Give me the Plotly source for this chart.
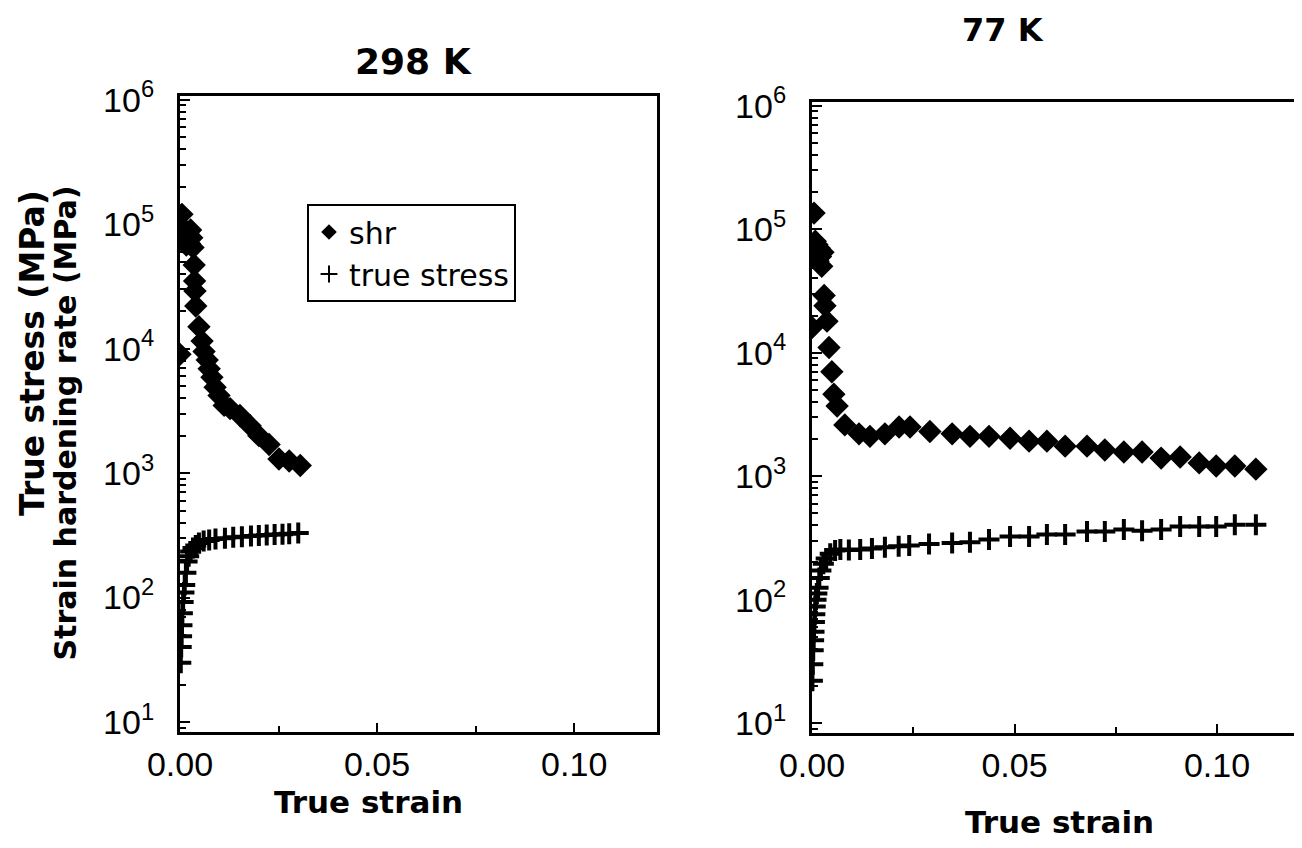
import plotly.graph_objects as go

# ---------------- data ----------------
# 298 K
strain_shr_298 = [0.0000, 0.0005, 0.0010, 0.0013, 0.0016, 0.0020, 0.0024, 0.0027, 0.0030, 0.0033,
                  0.0036, 0.0037, 0.0038, 0.0040, 0.0048, 0.0056, 0.0061, 0.0069, 0.0074, 0.0081,
                  0.0089, 0.0099, 0.0112, 0.0127, 0.0152, 0.0178, 0.0200, 0.0226, 0.0251, 0.0277, 0.0305]
shr_298 = [9.0e3, 1.2e5, 7.5e4, 9.0e4, 6.8e4, 8.5e4, 7.0e4, 9.0e4, 7.8e4, 6.5e4,
           4.7e4, 3.5e4, 2.9e4, 2.2e4, 1.5e4, 1.15e4, 9.5e3, 8.1e3, 6.9e3, 5.9e3,
           4.9e3, 4.2e3, 3.5e3, 3.3e3, 2.9e3, 2.4e3, 2.0e3, 1.7e3, 1.3e3, 1.25e3, 1.15e3]

strain_ts_298 = [0.0002, 0.0003, 0.0004, 0.0005, 0.0006, 0.0008, 0.0010, 0.0012, 0.0015, 0.0018,
                 0.0022, 0.0027, 0.0033, 0.0040, 0.0048, 0.0060, 0.0074, 0.0090, 0.0114, 0.0135,
                 0.0157, 0.0180, 0.0200, 0.0220, 0.0240, 0.0260, 0.0277, 0.0300]
ts_298 = [30, 40, 49, 60, 75, 92, 110, 126, 158, 195,
          215, 235, 250, 262, 275, 285, 290, 295, 300, 305,
          308, 312, 316, 318, 321, 323, 325, 330]

# 77 K
strain_shr_77 = [0.0000, 0.0005, 0.0008, 0.0010, 0.0012, 0.0015, 0.0018, 0.0021, 0.0024, 0.0027,
                 0.0030, 0.0032, 0.0037, 0.0042, 0.0049, 0.0054, 0.0062, 0.0081, 0.0116, 0.0143,
                 0.0180, 0.0215, 0.0242, 0.0291, 0.0346, 0.0390, 0.0437, 0.0489, 0.0536, 0.0580,
                 0.0625, 0.0679, 0.0723, 0.0770, 0.0815, 0.0862, 0.0909, 0.0956, 0.0998, 0.1044, 0.1096]
shr_77 = [1.6e4, 1.35e5, 8.0e4, 6.5e4, 7.5e4, 5.5e4, 7.0e4, 6.0e4, 5.0e4, 6.5e4,
          2.9e4, 2.4e4, 1.8e4, 1.1e4, 7.0e3, 4.6e3, 3.7e3, 2.6e3, 2.2e3, 2.1e3,
          2.2e3, 2.5e3, 2.5e3, 2.3e3, 2.2e3, 2.1e3, 2.1e3, 2.03e3, 1.92e3, 1.92e3,
          1.75e3, 1.75e3, 1.63e3, 1.57e3, 1.57e3, 1.40e3, 1.43e3, 1.28e3, 1.21e3, 1.21e3, 1.14e3]

strain_ts_77 = [0.0001, 0.0002, 0.0003, 0.0004, 0.0005, 0.0006, 0.0007, 0.0008, 0.0010, 0.0012,
                0.0015, 0.0018, 0.0022, 0.0028, 0.0035, 0.0045, 0.0057, 0.0070, 0.0091, 0.0119,
                0.0148, 0.0180, 0.0214, 0.0240, 0.0289, 0.0346, 0.0390, 0.0437, 0.0489, 0.0536,
                0.0580, 0.0625, 0.0679, 0.0723, 0.0770, 0.0815, 0.0862, 0.0909, 0.0956, 0.0998,
                0.1044, 0.1096]
ts_77 = [22, 30, 39, 47, 55, 66, 76, 88, 100, 112,
         125, 150, 172, 195, 215, 235, 250, 255, 252, 255,
         260, 265, 270, 275, 282, 288, 292, 307, 324, 324,
         337, 337, 356, 356, 369, 361, 369, 391, 391, 391,
         405, 405]

y_tick_vals = [1e1, 1e2, 1e3, 1e4, 1e5, 1e6]
y_tick_text = ["10<sup>1</sup>", "10<sup>2</sup>", "10<sup>3</sup>",
               "10<sup>4</sup>", "10<sup>5</sup>", "10<sup>6</sup>"]
x_tick_vals = [0.0, 0.05, 0.10]
x_tick_text = ["0.00", "0.05", "0.10"]
titles = ["298 K", "77 K"]
legend_names = ["shr", "true stress"]

# ---------------- figure ----------------
W, H = 1302, 848
OFF_X, OFF_Y = 6, 8  # page body margin of the browser
TICKFONT = "Liberation Sans, Arial, sans-serif"
BOLDFONT = "DejaVu Sans, sans-serif"

fig = go.Figure()

shr_marker = dict(symbol="diamond", size=18, color="black", line=dict(width=0))
ts_marker = dict(symbol="cross-thin", size=15, color="black", line=dict(width=4, color="black"))

fig.add_trace(go.Scatter(x=strain_shr_298, y=shr_298, mode="markers", marker=shr_marker,
                         name=legend_names[0], xaxis="x", yaxis="y", showlegend=True))
fig.add_trace(go.Scatter(x=strain_ts_298, y=ts_298, mode="markers", marker=ts_marker,
                         name=legend_names[1], xaxis="x", yaxis="y", showlegend=True))
fig.add_trace(go.Scatter(x=strain_shr_77, y=shr_77, mode="markers", marker=shr_marker,
                         name=legend_names[0], xaxis="x2", yaxis="y2", showlegend=False))
fig.add_trace(go.Scatter(x=strain_ts_77, y=ts_77, mode="markers", marker=ts_marker,
                         name=legend_names[1], xaxis="x2", yaxis="y2", showlegend=False))


def px_x(p):
    return (p - OFF_X) / W


def px_y(p):
    return 1 - (p - OFF_Y) / H


common_x = dict(
    range=[0, 0.121], tickvals=x_tick_vals, ticktext=x_tick_text,
    ticks="inside", ticklen=9, tickwidth=2, tickcolor="black",
    minor=dict(ticks="inside", ticklen=6, tickwidth=2, tickcolor="black", dtick=0.025, showgrid=False),
    showline=True, mirror=True, linewidth=3, linecolor="black",
    showgrid=False, zeroline=False, automargin=False,
    tickfont=dict(family=TICKFONT, size=34, color="black"),
    ticklabelstandoff=0,
)
common_y = dict(
    type="log", range=[0.92, 6.03], tickvals=y_tick_vals, ticktext=y_tick_text,
    ticks="inside", ticklen=10, tickwidth=2, tickcolor="black",
    minor=dict(ticks="inside", ticklen=6, tickwidth=2, tickcolor="black", dtick="D1", showgrid=False),
    showline=True, mirror=True, linewidth=3, linecolor="black",
    showgrid=False, zeroline=False, automargin=False,
    tickfont=dict(family=TICKFONT, size=34, color="black"),
    ticklabelstandoff=16,
)

fig.update_layout(
    width=W, height=H,
    margin=dict(l=0, r=0, t=0, b=0, autoexpand=False),
    paper_bgcolor="white", plot_bgcolor="white",
    xaxis=dict(domain=[px_x(178), px_x(655)], anchor="y", **common_x),
    yaxis=dict(domain=[px_y(732), px_y(96)], anchor="x", **common_y),
    xaxis2=dict(domain=[px_x(810), px_x(1296)], anchor="y2", **{**common_x, "range": [0, 0.12]}),
    yaxis2=dict(domain=[px_y(733), px_y(102)], anchor="x2", **common_y),
    legend=dict(x=px_x(305), y=px_y(204), xanchor="left", yanchor="top",
                bordercolor="black", borderwidth=2, bgcolor="white",
                font=dict(family="DejaVu Sans, sans-serif", size=30, color="black"),
                itemsizing="constant", tracegroupgap=0,
                entrywidth=230, entrywidthmode="pixels"),
    showlegend=True,
)

annotations = [
    dict(text="<b>" + titles[0] + "</b>", x=px_x(411), y=px_y(62), xref="paper", yref="paper",
         showarrow=False, font=dict(family=BOLDFONT, size=36, color="black"), xanchor="center", yanchor="middle"),
    dict(text="<b>" + titles[1] + "</b>", x=px_x(1001), y=px_y(30), xref="paper", yref="paper",
         showarrow=False, font=dict(family=BOLDFONT, size=32, color="black"), xanchor="center", yanchor="middle"),
    dict(text="<b>True strain</b>", x=px_x(366), y=px_y(802), xref="paper", yref="paper",
         showarrow=False, font=dict(family=BOLDFONT, size=31, color="black"), xanchor="center", yanchor="middle"),
    dict(text="<b>True strain</b>", x=px_x(1057), y=px_y(822), xref="paper", yref="paper",
         showarrow=False, font=dict(family=BOLDFONT, size=31, color="black"), xanchor="center", yanchor="middle"),
    dict(text="<b>True stress (MPa)</b>", x=px_x(30), y=px_y(188), xref="paper", yref="paper",
         showarrow=False, textangle=-90, font=dict(family=BOLDFONT, size=33, color="black"),
         xanchor="center", yanchor="top"),
    dict(text="<b>Strain hardening rate (MPa)</b>", x=px_x(63), y=px_y(184), xref="paper", yref="paper",
         showarrow=False, textangle=-90, font=dict(family=BOLDFONT, size=30, color="black"),
         xanchor="center", yanchor="top"),
]
fig.update_layout(annotations=annotations)

fig.write_html("out.html")
